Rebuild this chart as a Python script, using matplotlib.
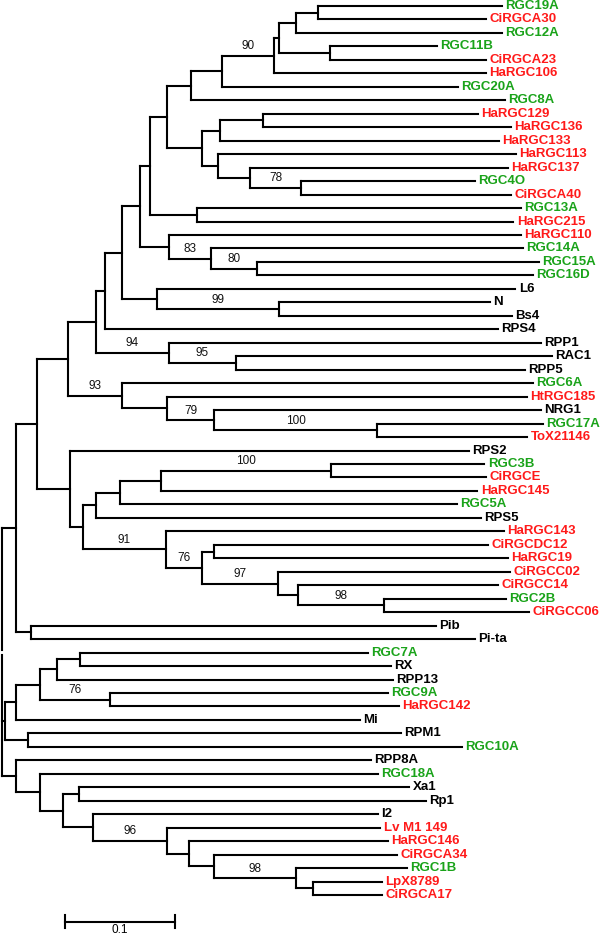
import matplotlib
matplotlib.use("Agg")
import matplotlib.pyplot as plt
from matplotlib.collections import LineCollection

# ---------------- data: tree topology (children listed top to bottom) ----------------
tree_parents = [
    "root", "n47", "n33", "n26", "n25", "n24", "n21", "n17", "n16", "n8",
    "n7", "n6", "n5", "n4", "n2", "n1", "n3", "n14", "n10", "n9",
    "n13", "n12", "n11", "n15", "n18", "n19", "n20", "n22", "n23", "n27",
    "n28", "n29", "n30", "n31", "n32", "n34", "n35", "n36", "n37", "n38",
    "n39", "n41", "n42", "n43", "n44", "n45", "n46", "n48", "n56", "n54",
    "n53", "n51", "n50", "n52", "n55", "n58", "n59", "n60", "n61", "n62",
    "n63", "n64", "n65", "n66", "n67",
]
tree_children = [
    ["n47", "n56", "n58"], ["n33", "n48"], ["n26", "n34"], ["n25", "n29"], ["n24", "n27"],
    ["n21", "RPS4"], ["n17", "n22"], ["n16", "n18"], ["n8", "n15"], ["n7", "n14"],
    ["n6", "RGC8A"], ["n5", "RGC20A"], ["n4", "HaRGC106"], ["n2", "n3"], ["n1", "RGC12A"],
    ["RGC19A", "CiRGCA30"], ["RGC11B", "CiRGCA23"], ["n10", "n13"], ["n9", "HaRGC133"],
    ["HaRGC129", "HaRGC136"], ["HaRGC113", "n12"], ["HaRGC137", "n11"], ["RGC4O", "CiRGCA40"],
    ["RGC13A", "HaRGC215"], ["HaRGC110", "n19"], ["RGC14A", "n20"], ["RGC15A", "RGC16D"],
    ["L6", "n23"], ["N", "Bs4"], ["RPP1", "n28"], ["RAC1", "RPP5"], ["RGC6A", "n30"],
    ["HtRGC185", "n31"], ["NRG1", "n32"], ["RGC17A", "ToX21146"], ["RPS2", "n35"],
    ["n36", "n41"], ["n37", "RPS5"], ["n38", "RGC5A"], ["n39", "HaRGC145"], ["RGC3B", "CiRGCE"],
    ["HaRGC143", "n42"], ["n43", "n44"], ["CiRGCDC12", "HaRGC19"], ["CiRGCC02", "n45"],
    ["CiRGCC14", "n46"], ["RGC2B", "CiRGCC06"], ["Pib", "Pi-ta"], ["n54", "n55"],
    ["n53", "Mi"], ["n51", "n52"], ["n50", "RPP13"], ["RGC7A", "RX"], ["RGC9A", "HaRGC142"],
    ["RPM1", "RGC10A"], ["RPP8A", "n59"], ["RGC18A", "n60"], ["n61", "n62"], ["Xa1", "Rp1"],
    ["I2", "n63"], ["Lv M1 149", "n64"], ["HaRGC146", "n65"], ["CiRGCA34", "n66"],
    ["RGC1B", "n67"], ["LpX8789", "CiRGCA17"],
]
tree_lengths = [
    [0.0123, 0.0027, 0.0127], [0.0195, 0.0141], [0.0282, 0.0300], [0.0255, 0.0491], [0.0078, 0.0660],
    [0.0158, 0.3576], [0.0159, 0.0318], [0.0095, 0.0265], [0.0155, 0.0427], [0.0218, 0.0318],
    [0.0282, 0.2855], [0.0473, 0.2145], [0.0045, 0.1927], [0.0159, 0.0464], [0.0195, 0.1868],
    [0.1673, 0.1527], [0.0973, 0.1418], [0.0164, 0.0145], [0.0391, 0.2536],
    [0.1950, 0.2255], [0.2709, 0.0291], [0.2345, 0.0468], [0.1577, 0.1905],
    [0.2945, 0.2877], [0.3204, 0.0385], [0.2836, 0.0418], [0.2564, 0.2509],
    [0.3259, 0.1109], [0.1918, 0.2118], [0.3385, 0.0613], [0.2873, 0.2627], [0.3736, 0.0413],
    [0.3269, 0.0424], [0.2973, 0.1482], [0.1509, 0.1364], [0.3627, 0.0118],
    [0.0118, 0.0755], [0.0218, 0.3496], [0.0373, 0.3064], [0.1545, 0.2877], [0.1395, 0.1409],
    [0.3073, 0.0327], [0.0109, 0.0691], [0.2491, 0.2673], [0.2109, 0.0182],
    [0.1818, 0.0786], [0.1105, 0.1314], [0.3682, 0.4036], [0.0100, 0.0209],
    [0.0214, 0.3127], [0.0159, 0.0641], [0.0209, 0.3055], [0.2618, 0.2827], [0.2524, 0.2627],
    [0.3391, 0.3945], [0.3227, 0.0214], [0.3077, 0.0214], [0.0145, 0.0273], [0.3000, 0.3155],
    [0.2591, 0.0676], [0.1933, 0.0196], [0.1805, 0.0227], [0.1664, 0.0750],
    [0.1005, 0.0150], [0.0627, 0.0627],
]

# bootstrap support values (node -> value)
support_nodes = ["n5", "n11", "n19", "n20", "n23", "n27", "n28", "n29", "n31", "n32",
                 "n39", "n41", "n42", "n44", "n46", "n52", "n63", "n66"]
support_values = [90, 78, 83, 80, 99, 94, 95, 93, 79, 100,
                  100, 91, 76, 97, 98, 76, 96, 98]

green_taxa = ["RGC19A", "RGC12A", "RGC11B", "RGC20A", "RGC8A", "RGC4O", "RGC13A", "RGC14A",
              "RGC15A", "RGC16D", "RGC6A", "RGC17A", "RGC3B", "RGC5A", "RGC2B", "RGC7A",
              "RGC9A", "RGC10A", "RGC18A", "RGC1B"]
red_taxa = ["CiRGCA30", "CiRGCA23", "HaRGC106", "HaRGC129", "HaRGC136", "HaRGC133", "HaRGC113",
            "HaRGC137", "CiRGCA40", "HaRGC215", "HaRGC110", "HtRGC185", "ToX21146", "CiRGCE",
            "HaRGC145", "HaRGC143", "CiRGCDC12", "HaRGC19", "CiRGCC02", "CiRGCC14", "CiRGCC06",
            "HaRGC142", "Lv M1 149", "HaRGC146", "CiRGCA34", "LpX8789", "CiRGCA17"]

scale_bar_value = 0.1
scale_bar_label = "0.1"

# ---------------- layout ----------------
GREEN = "#1aa31a"
RED = "#ff1a1a"

kids = dict(zip(tree_parents, tree_children))
blen = dict(zip(tree_parents, tree_lengths))
xpos, ypos, leaves = {}, {}, []


def layout(node, depth):
    xpos[node] = depth
    if node not in kids:
        ypos[node] = len(leaves)
        leaves.append(node)
        return
    for c, l in zip(kids[node], blen[node]):
        layout(c, depth + l)
    ypos[node] = 0.5 * (ypos[kids[node][0]] + ypos[kids[node][-1]])


layout("root", 0.0)
parent_of = {c: p for p, cs in kids.items() for c in cs}

fig = plt.figure(figsize=(6.04, 9.36), dpi=100)
ax = fig.add_axes([0, 0, 1, 1])
plt.rcParams["font.family"] = ["Liberation Sans", "DejaVu Sans"]

segs = []
for p, cs in kids.items():
    y0, y1 = ypos[cs[0]], ypos[cs[-1]]
    if p == "root":
        # root position shown as a small break in the root line
        ym = 0.5 * (y0 + y1)
        segs.append([(xpos[p], y0), (xpos[p], ym - 0.2)])
        segs.append([(xpos[p], ym + 0.2), (xpos[p], y1)])
    else:
        segs.append([(xpos[p], y0), (xpos[p], y1)])
    for c in cs:
        segs.append([(xpos[p], ypos[c]), (xpos[c], ypos[c])])
lc = LineCollection(segs, colors="black", linewidths=1.5, capstyle="projecting")
ax.add_collection(lc)

for leaf in leaves:
    col = GREEN if leaf in green_taxa else (RED if leaf in red_taxa else "black")
    ax.annotate(leaf, (xpos[leaf], ypos[leaf]), xytext=(2.5, 0), textcoords="offset points",
                ha="left", va="center", fontsize=9.5, fontweight="bold", color=col,
                family=["Liberation Sans", "DejaVu Sans"])

for node, val in zip(support_nodes, support_values):
    p = parent_of[node]
    xm = 0.5 * (xpos[p] + xpos[node])
    ax.annotate(str(val), (xm, ypos[node]), xytext=(0, 2.5), textcoords="offset points",
                ha="center", va="bottom", fontsize=8.5, color="#111111",
                family=["Liberation Sans", "DejaVu Sans"])

# scale bar
n = len(leaves)
sb_x0 = 0.057
sb_y = n + 0.98
ax.plot([sb_x0, sb_x0 + scale_bar_value], [sb_y, sb_y], color="black", lw=1.5)
for xx in (sb_x0, sb_x0 + scale_bar_value):
    ax.plot([xx, xx], [sb_y - 0.5, sb_y + 0.5], color="black", lw=1.5)
ax.annotate(scale_bar_label, (sb_x0 + scale_bar_value / 2, sb_y), xytext=(0, -2),
            textcoords="offset points", ha="center", va="top", fontsize=8.5,
            family=["Liberation Sans", "DejaVu Sans"])

ax.set_xlim(-2 / 1100, 602 / 1100)
ax.set_ylim(930 / 13.47, -6 / 13.47)
ax.axis("off")
fig.savefig("out.png", dpi=100)
